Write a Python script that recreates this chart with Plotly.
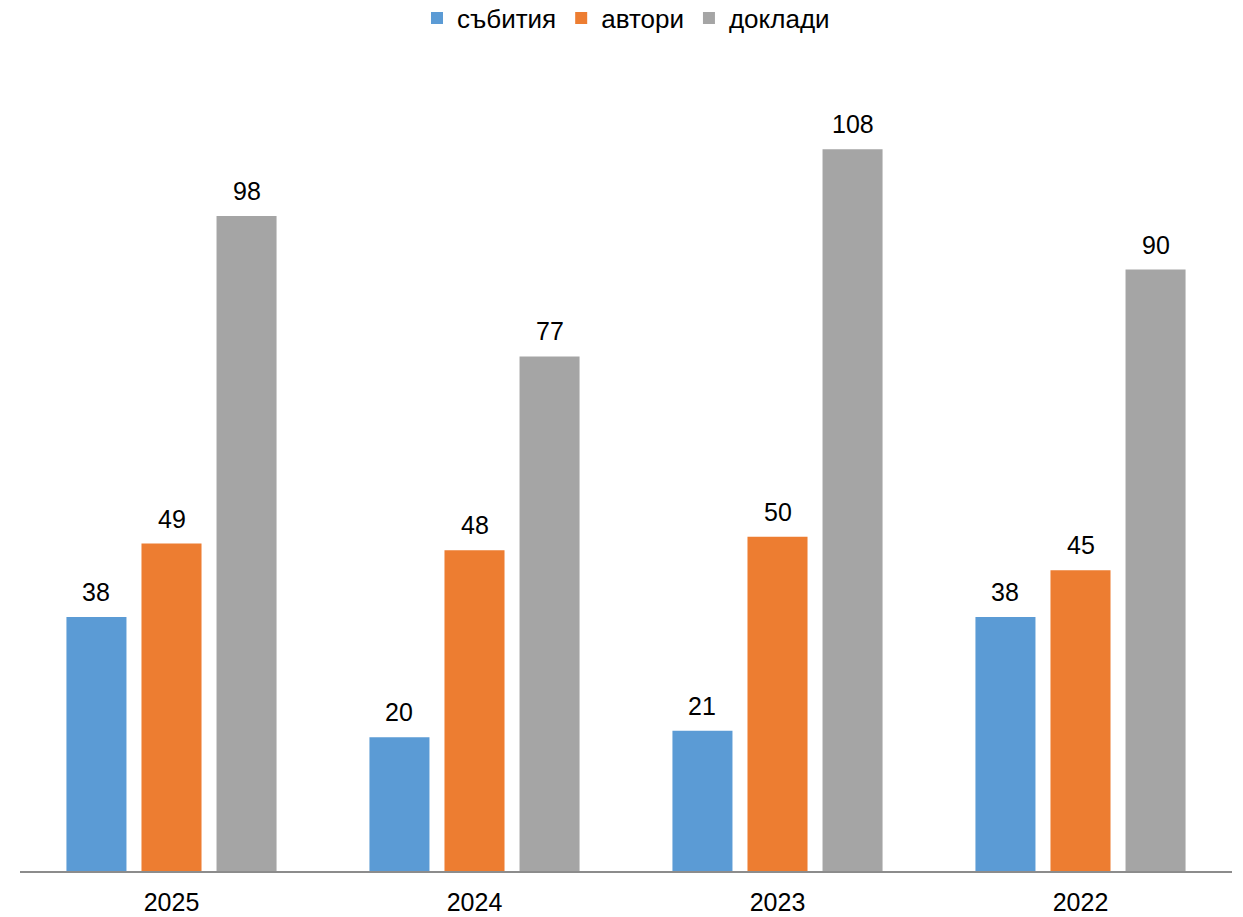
import plotly.graph_objects as go

# Categories (years) and series values
years = ["2025", "2024", "2023", "2022"]
events = [38, 20, 21, 38]       # събития
authors = [49, 48, 50, 45]      # автори
reports = [98, 77, 108, 90]     # доклади

series = [
    ("събития", events, "#5B9BD5"),
    ("автори", authors, "#ED7D31"),
    ("доклади", reports, "#A5A5A5"),
]

FONT = "Liberation Sans, Arial, sans-serif"

W, H = 1243, 917
M_L, M_R, M_T, M_B = 20, 11, 69, 46
BARGAP = 0.257
BARGROUPGAP = 0.2

fig = go.Figure()
for name, vals, color in series:
    fig.add_trace(go.Bar(
        name=name,
        x=years,
        y=vals,
        marker=dict(color=color, line=dict(width=0)),
        hovertemplate="%{x}: %{y}<extra>" + name + "</extra>",
    ))

# Value labels above each bar, shifted horizontally to the centre of its slot
plot_w = W - M_L - M_R
slot_px = plot_w / len(years) * (1 - BARGAP) / len(series)
for i, (name, vals, color) in enumerate(series):
    offset = (i - (len(series) - 1) / 2) * slot_px
    for k, v in enumerate(vals):
        fig.add_annotation(
            x=k, y=v, xref="x", yref="y",
            text=str(v),
            showarrow=False,
            xanchor="center", yanchor="bottom",
            xshift=offset, yshift=9,
            font=dict(family=FONT, size=25, color="#000000"),
        )

fig.update_layout(
    width=W,
    height=H,
    barmode="group",
    bargap=BARGAP,
    bargroupgap=BARGROUPGAP,
    paper_bgcolor="white",
    plot_bgcolor="white",
    margin=dict(l=M_L, r=M_R, t=M_T, b=M_B, autoexpand=False),
    font=dict(family=FONT, size=25, color="#000000"),
    showlegend=True,
    legend=dict(
        orientation="h",
        x=0.5, xanchor="center",
        y=1 - 18 / H, yref="container", yanchor="middle",
        font=dict(family=FONT, size=26, color="#000000"),
        itemwidth=30,
        traceorder="normal",
    ),
    xaxis=dict(
        type="category",
        categoryorder="array",
        categoryarray=years,
        range=[-0.5, len(years) - 0.5],
        automargin=False,
        showgrid=False,
        showline=True,
        linecolor="#8C8C8C",
        linewidth=2,
        ticks="",
        ticklabelstandoff=8,
        tickfont=dict(family=FONT, size=25, color="#000000"),
        zeroline=False,
    ),
    yaxis=dict(
        range=[0, 120],
        visible=False,
        showgrid=False,
        zeroline=False,
    ),
)

fig.write_html("out.html")
